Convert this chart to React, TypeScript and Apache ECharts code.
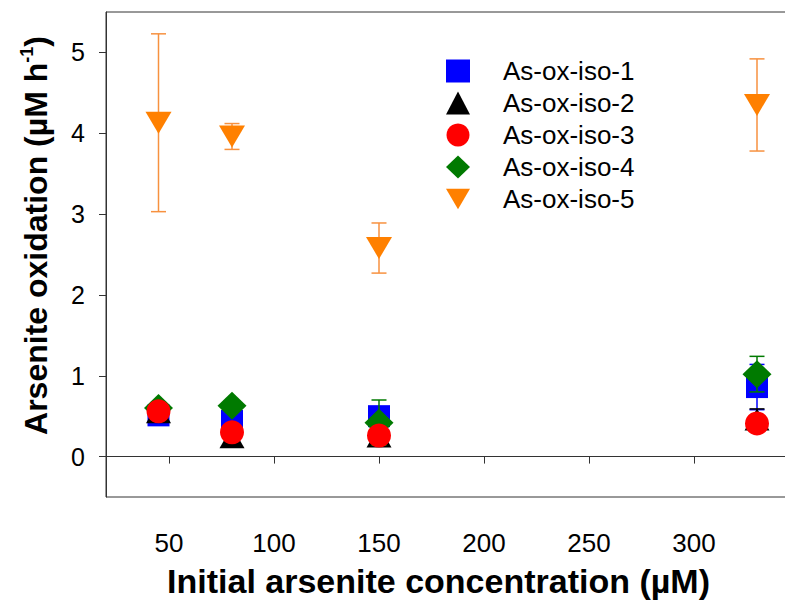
import React, { useEffect, useRef } from 'react';
import * as echarts from 'echarts';

const concentrations = [45, 80, 150, 330];
const seriesNames = ['As-ox-iso-1', 'As-ox-iso-2', 'As-ox-iso-3', 'As-ox-iso-4', 'As-ox-iso-5'];

const iso1 = [0.51, 0.44, 0.5, 0.86];
const iso1Err = [0.04, 0.06, 0.08, 0.28];
const iso2 = [0.55, 0.24, 0.25, 0.46];
const iso2Err = [0.03, 0.03, 0.03, 0.13];
const iso3 = [0.56, 0.3, 0.26, 0.41];
const iso3Err = [0.03, 0.03, 0.03, 0.05];
const iso4 = [0.6, 0.63, 0.42, 1.02];
const iso4Err = [0.03, 0.04, 0.28, 0.22];
const iso5 = [4.13, 3.96, 2.58, 4.35];
const iso5Err = [1.1, 0.16, 0.31, 0.57];

const xTicks = [50, 100, 150, 200, 250, 300];
const yTicks = [0, 1, 2, 3, 4, 5];

const downTri = 'path://M0,0L26,0L13,22Z';

function errorSeries(name: string, means: number[], errs: number[], color: string, z: number) {
  return {
    type: 'custom',
    name: name + ' error',
    z,
    silent: true,
    data: concentrations.map((x, i) => [x, means[i] - errs[i], means[i] + errs[i]]),
    encode: { x: 0, y: [1, 2] },
    renderItem: (params: any, api: any) => {
      const lo = api.coord([api.value(0), api.value(1)]);
      const hi = api.coord([api.value(0), api.value(2)]);
      const hw = 7.5;
      const style = { stroke: color, lineWidth: 1.5 };
      return {
        type: 'group',
        children: [
          { type: 'line', shape: { x1: hi[0], y1: hi[1], x2: lo[0], y2: lo[1] }, style },
          { type: 'line', shape: { x1: hi[0] - hw, y1: hi[1], x2: hi[0] + hw, y2: hi[1] }, style },
          { type: 'line', shape: { x1: lo[0] - hw, y1: lo[1], x2: lo[0] + hw, y2: lo[1] }, style },
        ],
      };
    },
  };
}

function scatterSeries(name: string, values: number[], color: string, symbol: string, size: any, z: number) {
  return {
    type: 'scatter',
    name,
    z,
    symbol,
    symbolSize: size,
    itemStyle: { color, opacity: 1 },
    data: concentrations.map((x, i) => [x, values[i]]),
  };
}

export default function App() {
  const ref = useRef<HTMLDivElement>(null);
  useEffect(() => {
    const chart = echarts.init(ref.current!, null, { renderer: 'svg' });
    const option: any = {
      animation: false,
      backgroundColor: '#ffffff',
      grid: {
        left: 106,
        right: -14,
        top: 12,
        bottom: 105,
        show: true,
        borderColor: '#333',
        borderWidth: 1,
        outerBoundsMode: 'none',
      },
      legend: {
        orient: 'vertical',
        left: 441,
        top: 53,
        itemWidth: 24,
        itemHeight: 23,
        itemGap: 6,
        selectedMode: false,
        textStyle: {
          fontFamily: 'Liberation Sans, Arial, sans-serif',
          fontSize: 26,
          color: '#000',
          padding: [0, 0, 0, 28],
        },
        data: [
          { name: seriesNames[0], icon: 'rect' },
          { name: seriesNames[1], icon: 'triangle' },
          { name: seriesNames[2], icon: 'circle' },
          { name: seriesNames[3], icon: 'diamond' },
          { name: seriesNames[4], icon: downTri },
        ],
      },
      xAxis: {
        type: 'value',
        min: 20,
        max: 350,
        name: 'Initial arsenite concentration (µM)',
        nameLocation: 'middle',
        nameGap: 67,
        nameMoveOverlap: false,
        nameTextStyle: {
          fontFamily: 'Liberation Sans, Arial, sans-serif',
          fontWeight: 'bold',
          fontSize: 34,
          lineHeight: 34,
          color: '#000',
          padding: [0, 28, 0, 0],
        },
        axisLine: { show: true, lineStyle: { color: '#333', width: 1 } },
        axisTick: { show: true, inside: false, length: 7, customValues: xTicks, lineStyle: { color: '#333' } },
        axisLabel: {
          customValues: xTicks,
          margin: 33,
          fontFamily: 'Liberation Sans, Arial, sans-serif',
          fontSize: 26,
          lineHeight: 26,
          color: '#000',
        },
        splitLine: { show: false },
      },
      yAxis: {
        type: 'value',
        min: -0.5,
        max: 5.5,
        name: 'Arsenite oxidation (µM h{sup|-1})',
        nameLocation: 'middle',
        nameGap: 52,
        nameMoveOverlap: false,
        nameTextStyle: {
          fontFamily: 'Liberation Sans, Arial, sans-serif',
          fontWeight: 'bold',
          fontSize: 32,
          color: '#000',
          lineHeight: 36,
          padding: [0, 0, 0, 38],
          rich: {
            sup: {
              fontFamily: 'Liberation Sans, Arial, sans-serif',
              fontWeight: 'bold',
              fontSize: 18,
              color: '#000',
              verticalAlign: 'top',
              lineHeight: 18,
              padding: [0, 0, 14, 0],
            },
          },
        },
        axisLine: { show: true, lineStyle: { color: '#333', width: 1 } },
        axisTick: { show: true, inside: false, length: 7, customValues: yTicks, lineStyle: { color: '#333' } },
        axisLabel: {
          customValues: yTicks,
          margin: 21,
          fontFamily: 'Liberation Sans, Arial, sans-serif',
          fontSize: 25,
          color: '#000',
        },
        splitLine: { show: false },
      },
      series: [
        scatterSeries(seriesNames[0], iso1, '#0000ff', 'rect', [22, 22], 2),
        scatterSeries(seriesNames[1], iso2, '#000000', 'triangle', [25, 22], 4),
        scatterSeries(seriesNames[3], iso4, '#007a00', 'diamond', [29, 28], 6),
        scatterSeries(seriesNames[2], iso3, '#ff0000', 'circle', 24, 8),
        scatterSeries(seriesNames[4], iso5, '#ff8000', downTri, [26, 22], 10),
        errorSeries(seriesNames[0], iso1, iso1Err, '#0000ff', 1),
        errorSeries(seriesNames[1], iso2, iso2Err, '#000000', 3),
        errorSeries(seriesNames[3], iso4, iso4Err, '#007a00', 5),
        errorSeries(seriesNames[2], iso3, iso3Err, '#ff0000', 7),
        errorSeries(seriesNames[4], iso5, iso5Err, '#f7913f', 9),
      ],
    };
    chart.setOption(option);
    return () => chart.dispose();
  }, []);
  return (
    <div
      ref={ref}
      style={{ position: 'fixed', left: 0, top: 0, width: 785, height: 602, background: '#fff' }}
    />
  );
}
